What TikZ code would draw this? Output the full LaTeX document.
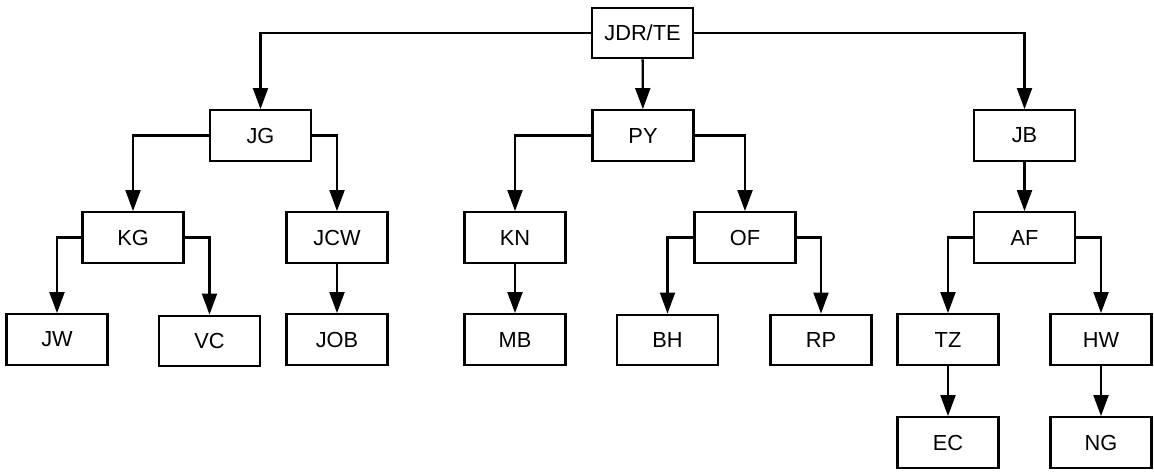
\documentclass[tikz,border=0pt]{standalone}
\usepackage{fontspec}
\setmainfont{Liberation Sans}
\usetikzlibrary{arrows.meta}

\tikzset{
    person/.style={draw, line width=1.3pt, minimum width=2.02cm, minimum height=1.01cm, inner sep=0pt, font=\fontsize{12.4}{14}\selectfont},
    link/.style={line width=1.3pt, -{Triangle[length=12pt,width=8.5pt]}}
}

\begin{document}
\begin{tikzpicture}[x=0.02cm, y=-0.02cm]
    \useasboundingbox (0,0) rectangle (1154,471);
    % top
    \node[person] (jdr) at (642.5,33) {JDR/TE};
    % second row
    \node[person] (jg) at (260.5,135.5) {JG};
    \node[person] (py) at (643,135.5) {PY};
    \node[person] (jb) at (1024.5,135.5) {JB};
    % third row
    \node[person] (kg) at (133,237.5) {KG};
    \node[person] (jcw) at (337,237.5) {JCW};
    \node[person] (kn) at (515,237.5) {KN};
    \node[person] (of) at (745,237.5) {OF};
    \node[person] (af) at (1024.5,237.5) {AF};
    % fourth row
    \node[person] (jw) at (57,339.5) {JW};
    \node[person] (vc) at (209.5,341) {VC};
    \node[person] (job) at (337,339.5) {JOB};
    \node[person] (mb) at (515,339.5) {MB};
    \node[person] (bh) at (667.5,340) {BH};
    \node[person] (rp) at (821,340) {RP};
    \node[person] (tz) at (948,339.5) {TZ};
    \node[person] (hw) at (1101,339.5) {HW};
    % bottom
    \node[person] (ec) at (948,442.5) {EC};
    \node[person] (ng) at (1101,442.5) {NG};

    \draw[link] (jdr.west) -| (jg.north);
    \draw[link] (jdr) -- (py);
    \draw[link] (jdr.east) -| (jb.north);
    \draw[link] (jg.west) -| (kg.north);
    \draw[link] (jg.east) -| (jcw.north);
    \draw[link] (py.west) -| (kn.north);
    \draw[link] (py.east) -| (of.north);
    \draw[link] (jb) -- (af);
    \draw[link] (kg.west) -| (jw.north);
    \draw[link] (kg.east) -| (vc.north);
    \draw[link] (jcw) -- (job);
    \draw[link] (kn) -- (mb);
    \draw[link] (of.west) -| (bh.north);
    \draw[link] (of.east) -| (rp.north);
    \draw[link] (af.west) -| (tz.north);
    \draw[link] (af.east) -| (hw.north);
    \draw[link] (tz) -- (ec);
    \draw[link] (hw) -- (ng);
\end{tikzpicture}
\end{document}
